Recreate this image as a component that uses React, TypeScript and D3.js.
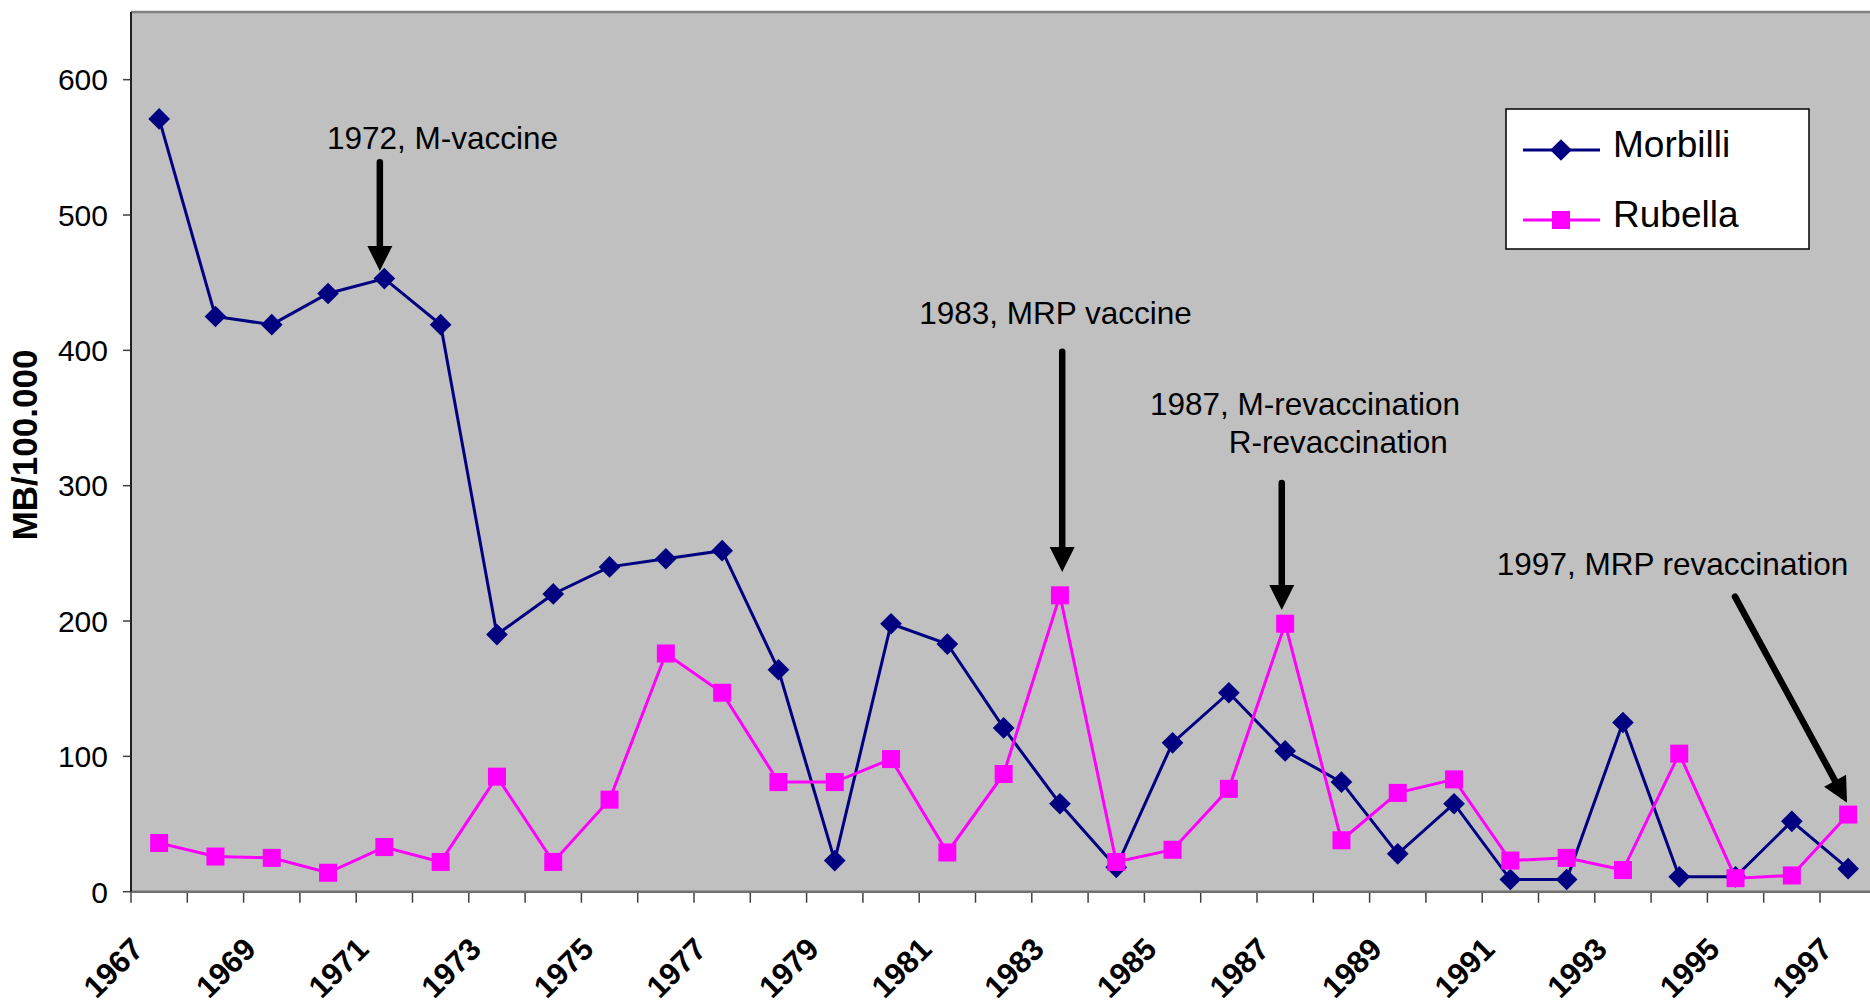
import React from "react";
import * as d3 from "d3";

// Incidence per 100.000 inhabitants, 1967–1997
const years = [
  1967, 1968, 1969, 1970, 1971, 1972, 1973, 1974, 1975, 1976, 1977, 1978, 1979, 1980, 1981, 1982,
  1983, 1984, 1985, 1986, 1987, 1988, 1989, 1990, 1991, 1992, 1993, 1994, 1995, 1996, 1997,
];
const morbilli = [
  571, 425, 419, 442, 453, 419, 190, 220, 240, 246, 252, 164, 23, 198, 183, 121,
  65, 18, 110, 147, 104, 81, 28, 65, 9, 9, 125, 11, 11, 52, 17,
];
const rubella = [
  36, 26, 25, 14, 33, 22, 85, 22, 68, 176, 147, 81, 81, 98, 29, 87,
  219, 22, 31, 76, 198, 38, 73, 83, 23, 25, 16, 102, 10, 12, 57,
];
const yTicks = [0, 100, 200, 300, 400, 500, 600];
const xTickLabels = [
  "1967", "1969", "1971", "1973", "1975", "1977", "1979", "1981",
  "1983", "1985", "1987", "1989", "1991", "1993", "1995", "1997",
];

// Annotation texts, placed in (fractional year, value) units
const noteTexts = [
  "1972, M-vaccine",
  "1983, MRP vaccine",
  "1987, M-revaccination",
  "R-revaccination",
  "1997, MRP revaccination",
];
const noteYears = [1969.98, 1980.5, 1984.6, 1986.0, 1990.76];
const noteValues = [549, 419.5, 352.3, 324.2, 234];

// Arrows: start (year, value) -> tip (year, value)
const arrowFromYear = [1970.92, 1983.04, 1986.94, 1994.99];
const arrowFromValue = [539, 399, 302, 218];
const arrowToYear = [1970.92, 1983.04, 1986.94, 1996.98];
const arrowToValue = [458.7, 236.2, 208.2, 65.7];

const W = 1870;
const H = 1005;
const FONT = "'Liberation Sans', Arial, Helvetica, sans-serif";
const NAVY = "#000080";
const MAGENTA = "#FF00FF";

const plotLeft = 131;
const plotTop = 12;
const plotBottom = 891.7;
const step = 56.3;

export default function App() {
  const x = d3
    .scaleBand<string>()
    .domain(years.map(String))
    .range([plotLeft, plotLeft + years.length * step])
    .padding(0);
  const y = d3.scaleLinear().domain([0, 650]).range([plotBottom, plotTop]);

  const cx = (yr: number) => (x(String(yr)) as number) + x.bandwidth() / 2;
  const xAt = (yf: number) => cx(years[0]) + (yf - years[0]) * x.step();

  const line = d3
    .line<number>()
    .x((_, i) => cx(years[i]))
    .y((d) => y(d));

  const plotRight = plotLeft + years.length * step;
  const diamond = d3.symbol(d3.symbolDiamond2, 300)();
  const sq = 18;

  const arrows = arrowFromYear.map((fy, i) => {
    const x1 = xAt(fy);
    const y1 = y(arrowFromValue[i]);
    const x2 = xAt(arrowToYear[i]);
    const y2 = y(arrowToValue[i]);
    const dx = x2 - x1;
    const dy = y2 - y1;
    const len = Math.hypot(dx, dy);
    const ux = dx / len;
    const uy = dy / len;
    const headLen = 25;
    const headHalf = 12.5;
    const bx = x2 - ux * headLen;
    const by = y2 - uy * headLen;
    const pts = [
      [x2, y2],
      [bx - uy * headHalf, by + ux * headHalf],
      [bx + uy * headHalf, by - ux * headHalf],
    ];
    return { x1, y1, bx: x2 - ux * (headLen - 2), by: y2 - uy * (headLen - 2), pts };
  });

  const legendItems = [
    { name: "Morbilli", color: NAVY, kind: "diamond" },
    { name: "Rubella", color: MAGENTA, kind: "square" },
  ];

  return (
    <div style={{ position: "absolute", left: 0, top: 0, width: W, height: H, overflow: "hidden", background: "#fff" }}>
      <svg width={W} height={H} style={{ display: "block" }} fontFamily={FONT}>
        {/* plot area */}
        <rect x={plotLeft} y={plotTop} width={plotRight - plotLeft} height={plotBottom - plotTop} fill="#C0C0C0" />
        <line x1={plotLeft} x2={plotRight} y1={plotTop} y2={plotTop} stroke="#808080" strokeWidth={2.5} />

        {/* y axis */}
        {yTicks.map((t) => (
          <g key={t}>
            <line x1={plotLeft - 8} x2={plotLeft} y1={y(t)} y2={y(t)} stroke="#404040" strokeWidth={1.5} />
            <text x={108} y={y(t)} dy="0.36em" textAnchor="end" fontSize={30} fill="#000">
              {t}
            </text>
          </g>
        ))}
        <text
          transform={`translate(37, 445) rotate(-90)`}
          textAnchor="middle"
          fontSize={35}
          fontWeight="bold"
          fill="#000"
        >
          MB/100.000
        </text>

        {/* x axis */}
        {d3.range(years.length + 1).map((k) => (
          <line
            key={k}
            x1={plotLeft + k * x.step()}
            x2={plotLeft + k * x.step()}
            y1={plotBottom}
            y2={plotBottom + 11}
            stroke="#404040"
            strokeWidth={1.5}
          />
        ))}
        {xTickLabels.map((lab) => (
          <text
            key={lab}
            transform={`translate(${cx(+lab) - 14}, 951) rotate(-45)`}
            textAnchor="end"
            fontSize={31}
            fontWeight="bold"
            fill="#000"
          >
            {lab}
          </text>
        ))}
        <line x1={plotLeft} x2={plotRight} y1={plotBottom} y2={plotBottom} stroke="#707070" strokeWidth={2.5} />
        <line x1={plotLeft} x2={plotLeft} y1={plotTop} y2={plotBottom} stroke="#202020" strokeWidth={2} />

        {/* Morbilli */}
        <path d={line(morbilli) ?? ""} fill="none" stroke={NAVY} strokeWidth={3} />
        {morbilli.map((v, i) => (
          <path key={i} d={diamond ?? ""} transform={`translate(${cx(years[i])}, ${y(v)})`} fill={NAVY} />
        ))}

        {/* Rubella */}
        <path d={line(rubella) ?? ""} fill="none" stroke={MAGENTA} strokeWidth={3} />
        {rubella.map((v, i) => (
          <rect key={i} x={cx(years[i]) - sq / 2} y={y(v) - sq / 2} width={sq} height={sq} fill={MAGENTA} />
        ))}

        {/* annotations */}
        {noteTexts.map((t, i) => (
          <text key={t} x={xAt(noteYears[i])} y={y(noteValues[i])} fontSize={31.5} fill="#000">
            {t}
          </text>
        ))}
        {arrows.map((a, i) => (
          <g key={i}>
            <line x1={a.x1} y1={a.y1} x2={a.bx} y2={a.by} stroke="#000" strokeWidth={6.5} strokeLinecap="round" />
            <polygon points={a.pts.map((p) => p.join(",")).join(" ")} fill="#000" />
          </g>
        ))}

        {/* legend */}
        <rect x={1506} y={109} width={303} height={140} fill="#fff" stroke="#000" strokeWidth={1.5} />
        {legendItems.map((it, i) => {
          const ly = 150 + i * 70;
          return (
            <g key={it.name}>
              <line x1={1523} x2={1600} y1={ly} y2={ly} stroke={it.color} strokeWidth={3} />
              {it.kind === "diamond" ? (
                <path d={diamond ?? ""} transform={`translate(1561, ${ly})`} fill={it.color} />
              ) : (
                <rect x={1561 - sq / 2} y={ly - sq / 2} width={sq} height={sq} fill={it.color} />
              )}
              <text x={1613} y={ly + 7} fontSize={37} fill="#000">
                {it.name}
              </text>
            </g>
          );
        })}
      </svg>
    </div>
  );
}
